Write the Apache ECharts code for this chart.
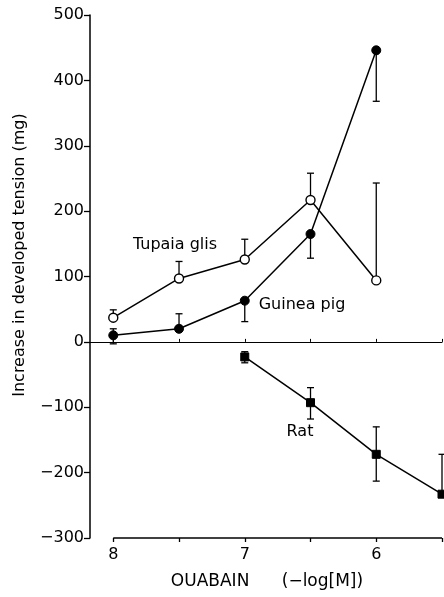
<!DOCTYPE html>
<html><head><meta charset="utf-8">
<script src="https://cdn.jsdelivr.net/npm/echarts@6/dist/echarts.min.js"></script>
<style>html,body{margin:0;padding:0;background:#fff}#c{width:444px;height:597px}</style>
</head><body><div id="c"></div>
<script>
// Data (x = -log[M] of ouabain)
const xTicks = [8, 7.5, 7, 6.5, 6, 5.5];
const xLabels = [8, 7, 6];
const yTicks = [-300, -200, -100, 0, 100, 200, 300, 400, 500];
const tupaiaX = [8, 7.5, 7, 6.5, 6];
const tupaiaY = [37, 97, 126, 217, 94];
const tupaiaErr = [[8, 37, 49], [7.5, 97, 123], [7, 126, 157], [6.5, 217, 258], [6, 94, 243]];
const guineaX = [8, 7.5, 7, 6.5, 6];
const guineaY = [10, 20, 63, 165, 446];
const guineaErr = [[8, -3, 20], [7.5, 20, 43], [7, 31, 63], [6.5, 128, 165], [6, 368, 446]];
const ratX = [7, 6.5, 6, 5.5];
const ratY = [-23, -93, -172, -233];
const ratErr = [[7, -32, -15], [6.5, -118, -70], [6, -213, -130], [5.5, -233, -172]];

const FONT = "'DejaVu Sans', 'Liberation Sans', Arial, sans-serif";
const FS = 16;
const chart = echarts.init(document.getElementById('c'), null, {renderer: 'canvas'});

function zip(xs, ys) { return xs.map((x, i) => [x, ys[i]]); }

function errSeries(data) {
  return {
    type: 'custom', xAxisIndex: 0, yAxisIndex: 0, clip: false, silent: true, z: 1,
    data: data,
    renderItem: function (params, api) {
      const x = api.value(0);
      const lo = api.coord([x, api.value(1)]);
      const hi = api.coord([x, api.value(2)]);
      const w = 3.5;
      const st = {stroke: '#000', lineWidth: 1.3};
      return {type: 'group', children: [
        {type: 'line', shape: {x1: lo[0], y1: lo[1], x2: hi[0], y2: hi[1]}, style: st},
        {type: 'line', shape: {x1: lo[0] - w, y1: lo[1], x2: lo[0] + w, y2: lo[1]}, style: st},
        {type: 'line', shape: {x1: hi[0] - w, y1: hi[1], x2: hi[0] + w, y2: hi[1]}, style: st}
      ]};
    }
  };
}

const lineBase = {type: 'line', xAxisIndex: 0, yAxisIndex: 0, clip: false, silent: true, z: 3,
  lineStyle: {color: '#000', width: 1.5}};

const option = {
  animation: false,
  backgroundColor: '#fff',
  grid: {left: 90, right: 2, top: 15, bottom: 59, containLabel: false},
  xAxis: [
    {type: 'value', min: 5.5, max: 8.177, inverse: true, position: 'bottom',
     axisLine: {show: true, onZero: true, lineStyle: {color: '#000', width: 1.2}},
     axisTick: {show: true, customValues: xTicks, length: 3, inside: true, lineStyle: {color: '#000'}},
     axisLabel: {show: false}, splitLine: {show: false}},
    {type: 'value', min: 5.5, max: 8.177, inverse: true, position: 'bottom',
     axisLine: {show: false, onZero: false},
     axisTick: {show: true, customValues: xTicks, length: 4, lineStyle: {color: '#000', width: 1.3}},
     axisLabel: {show: true, customValues: xLabels, margin: 9, color: '#000', fontSize: FS, fontFamily: FONT,
       formatter: v => String(v)},
     splitLine: {show: false}}
  ],
  yAxis: {type: 'value', min: -300, max: 500, interval: 100,
    axisLine: {show: true, onZero: false, lineStyle: {color: '#000', width: 1.5}},
    axisTick: {show: true, length: 6, lineStyle: {color: '#000', width: 1.3}},
    axisLabel: {color: '#000', fontSize: FS, fontFamily: FONT, margin: 6,
      formatter: v => (v < 0 ? '\u2212' + Math.abs(v) : String(v))},
    splitLine: {show: false}},
  graphic: [
    {type: 'text', x: 20, y: 255, rotation: Math.PI / 2,
     style: {text: 'Increase in developed tension (mg)', fill: '#000', fontSize: FS, fontFamily: FONT,
       align: 'center', verticalAlign: 'middle'}},
    {type: 'text', x: 267, y: 582,
     style: {text: 'OUABAIN      (\u2212log[M])', fill: '#000', fontSize: 17, fontFamily: FONT,
       align: 'center', verticalAlign: 'middle'}},
    {type: 'text', x: 175, y: 245,
     style: {text: 'Tupaia glis', fill: '#000', fontSize: FS, fontFamily: FONT, align: 'center', verticalAlign: 'middle'}},
    {type: 'text', x: 302, y: 305,
     style: {text: 'Guinea pig', fill: '#000', fontSize: FS, fontFamily: FONT, align: 'center', verticalAlign: 'middle'}},
    {type: 'text', x: 300, y: 432,
     style: {text: 'Rat', fill: '#000', fontSize: FS, fontFamily: FONT, align: 'center', verticalAlign: 'middle'}}
  ],
  series: [
    errSeries(tupaiaErr),
    errSeries(guineaErr),
    errSeries(ratErr),
    Object.assign({}, lineBase, {name: 'Tupaia glis', data: zip(tupaiaX, tupaiaY),
      symbol: 'circle', symbolSize: 9,
      itemStyle: {color: '#fff', borderColor: '#000', borderWidth: 1.4},
      markLine: {silent: true, symbol: ['none', 'none'], label: {show: false},
        lineStyle: {color: '#000', width: 1.5, type: 'solid'},
        data: [[{coord: [8, -300]}, {coord: [5.5, -300]}]]}}),
    Object.assign({}, lineBase, {name: 'Guinea pig', data: zip(guineaX, guineaY),
      symbol: 'circle', symbolSize: 9, itemStyle: {color: '#000', borderColor: '#000'}}),
    Object.assign({}, lineBase, {name: 'Rat', data: zip(ratX, ratY),
      symbol: 'rect', symbolSize: 8, itemStyle: {color: '#000', borderColor: '#000'}})
  ]
};
chart.setOption(option);
</script>
</body></html>
